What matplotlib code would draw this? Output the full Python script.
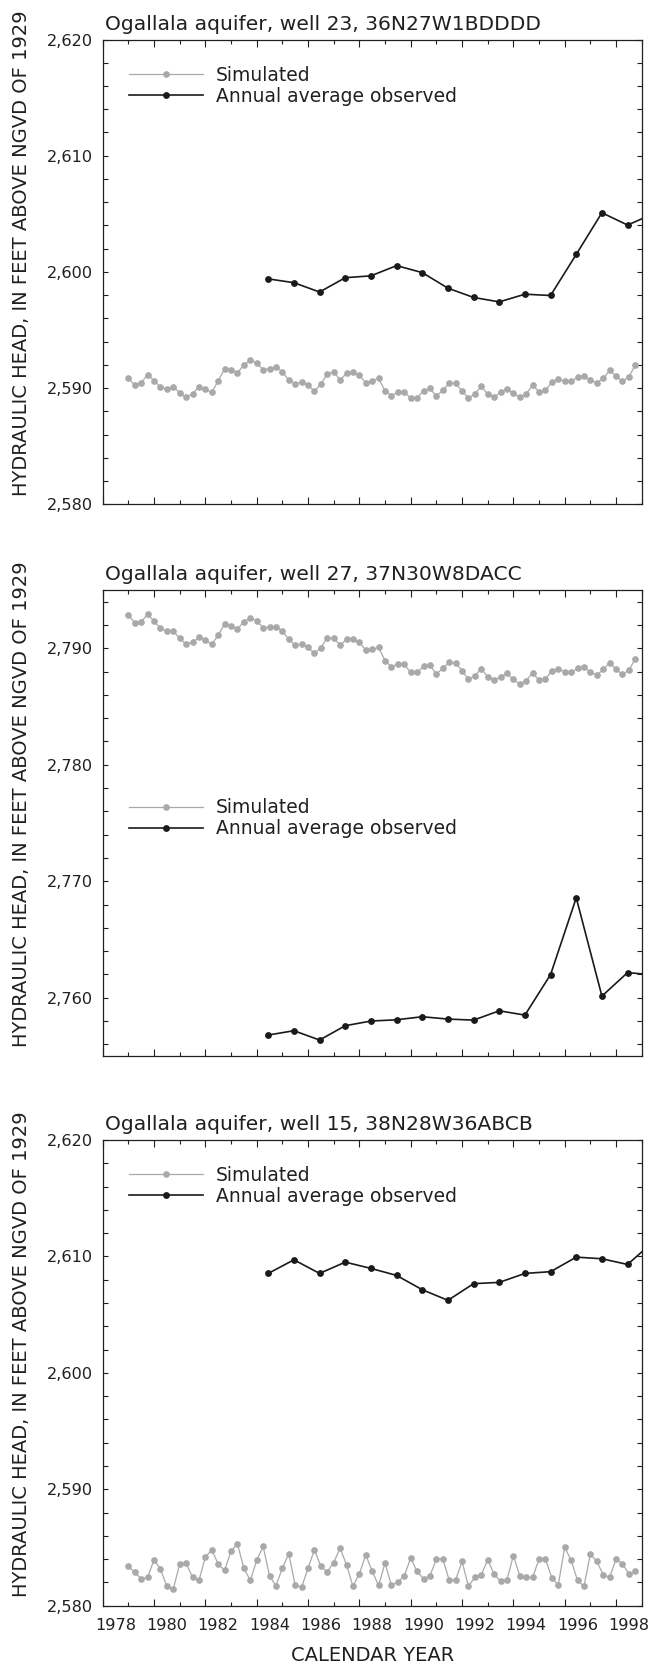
import numpy as np
import matplotlib
matplotlib.use("Agg")
import matplotlib.pyplot as plt
from matplotlib.ticker import FuncFormatter, NullFormatter, MultipleLocator
from matplotlib.transforms import offset_copy

# ---------------- data ----------------
sim_start = 1979.0          # first simulated time step (decimal year)
sim_step = 0.25             # quarterly stress periods
obs_dates = [1984.45, 1985.45, 1986.45, 1987.45, 1988.45, 1989.45, 1990.45, 1991.45,
             1992.45, 1993.45, 1994.45, 1995.45, 1996.45, 1997.45, 1998.45, 1999.45]

titles = ["Ogallala aquifer, well 23, 36N27W1BDDDD",
          "Ogallala aquifer, well 27, 37N30W8DACC",
          "Ogallala aquifer, well 15, 38N28W36ABCB"]

well23_sim = [2590.83, 2590.26, 2590.46, 2591.17, 2590.63, 2590.11, 2589.91, 2590.09, 2589.60, 2589.20,
              2589.51, 2590.11, 2589.89, 2589.63, 2590.63, 2591.63, 2591.60, 2591.32, 2591.98, 2592.41,
              2592.15, 2591.60, 2591.66, 2591.81, 2591.40, 2590.69, 2590.34, 2590.52, 2590.23, 2589.74,
              2590.34, 2591.23, 2591.38, 2590.72, 2591.26, 2591.40, 2591.12, 2590.46, 2590.63, 2590.83,
              2589.77, 2589.34, 2589.66, 2589.68, 2589.11, 2589.17, 2589.77, 2589.97, 2589.31,
              2589.80, 2590.43, 2590.40, 2589.77, 2589.14, 2589.51, 2590.14, 2589.48, 2589.23, 2589.63,
              2589.94, 2589.54, 2589.20, 2589.51, 2590.26, 2589.68, 2589.80, 2590.52, 2590.77, 2590.57,
              2590.57, 2590.92, 2591.06, 2590.69, 2590.46, 2590.83, 2591.52, 2591.03, 2590.57, 2590.97,
              2591.98]
well23_obs = [2599.40, 2599.07, 2598.27, 2599.50, 2599.66, 2600.54, 2599.94, 2598.60,
              2597.80, 2597.42, 2598.08, 2597.97, 2601.51, 2605.09, 2604.03, 2605.0]

well27_sim = [2792.85, 2792.19, 2792.28, 2792.91, 2792.34, 2791.70, 2791.48, 2791.48, 2790.85, 2790.36,
              2790.50, 2790.93, 2790.70, 2790.33, 2791.13, 2792.08, 2791.93, 2791.65, 2792.28, 2792.62,
              2792.36, 2791.76, 2791.79, 2791.85, 2791.48, 2790.76, 2790.27, 2790.36, 2790.07, 2789.56,
              2790.04, 2790.90, 2790.85, 2790.27, 2790.76, 2790.82, 2790.50, 2789.84, 2789.90, 2790.07,
              2788.93, 2788.41, 2788.64, 2788.61, 2787.92, 2787.92, 2788.44, 2788.55, 2787.78,
              2788.27, 2788.78, 2788.75, 2788.07, 2787.35, 2787.64, 2788.24, 2787.55, 2787.26, 2787.55,
              2787.84, 2787.32, 2786.92, 2787.21, 2787.89, 2787.26, 2787.35, 2788.07, 2788.24, 2787.95,
              2787.92, 2788.27, 2788.41, 2787.95, 2787.69, 2788.18, 2788.75, 2788.21, 2787.75, 2788.12,
              2789.07]
well27_obs = [2756.80, 2757.17, 2756.37, 2757.60, 2758.00, 2758.11, 2758.37, 2758.17,
              2758.08, 2758.88, 2758.51, 2761.99, 2768.58, 2760.14, 2762.16, 2761.96]

well15_sim = [2583.37, 2582.86, 2582.31, 2582.43, 2583.94, 2583.14, 2581.66, 2581.43, 2583.57, 2583.66,
              2582.43, 2582.17, 2584.17, 2584.80, 2583.57, 2583.03, 2584.71, 2585.31, 2583.23, 2582.17,
              2583.89, 2585.09, 2582.57, 2581.71, 2583.23, 2584.46, 2581.74, 2581.57, 2583.23, 2584.80,
              2583.37, 2582.91, 2583.71, 2584.94, 2583.51, 2581.66, 2582.74, 2584.37, 2582.94, 2581.74,
              2583.66, 2581.74, 2582.03, 2582.57, 2584.09, 2582.94, 2582.31, 2582.57, 2584.00,
              2584.00, 2582.20, 2582.20, 2583.80, 2581.66, 2582.46, 2582.66, 2583.94, 2582.71, 2582.09,
              2582.20, 2584.31, 2582.57, 2582.43, 2582.43, 2584.00, 2584.00, 2582.37, 2581.77, 2585.03,
              2583.89, 2582.17, 2581.66, 2584.43, 2583.80, 2582.66, 2582.43, 2584.00, 2583.60, 2582.74,
              2582.97]
well15_obs = [2608.54, 2609.71, 2608.54, 2609.51, 2608.97, 2608.37, 2607.14, 2606.23,
              2607.66, 2607.77, 2608.54, 2608.69, 2609.94, 2609.80, 2609.31, 2611.26]

y_ranges = [(2580, 2620), (2755, 2795), (2580, 2620)]
year_range = (1978, 1999)
label_years = list(range(1978, 1999, 2))

sim_series = [well23_sim, well27_sim, well15_sim]
obs_series = [well23_obs, well27_obs, well15_obs]

# ---------------- style ----------------
INK = "#231f20"
SIM_C = "#a7a9ac"
plt.rcParams["font.family"] = ["DejaVu Sans"]
plt.rcParams["text.color"] = INK

W, H = 652, 1675
fig = plt.figure(figsize=(W / 100, H / 100), dpi=100)

left = 102.7 / W
width = 539.0 / W
panels_px = [(39.5, 504.3), (590.0, 1056.0), (1140.0, 1605.7)]
legend_anchor = [0.943, 0.5528, 0.9446]
ylabel_y = [0.54, 0.54, 0.54]

for i, (top, bot) in enumerate(panels_px):
    ax = fig.add_axes([left, (H - bot) / H, width, (bot - top) / H])
    sim = sim_series[i]
    t_sim = sim_start + sim_step * np.arange(len(sim))
    ax.plot(t_sim, sim, color=SIM_C, lw=0.9, marker="o", ms=3.8, mec=SIM_C, mfc=SIM_C,
            label="Simulated", zorder=2)
    ax.plot(obs_dates, obs_series[i], color="#1a1a1a", lw=1.2, marker="o", ms=3.9,
            mec="#1a1a1a", mfc="#1a1a1a", label="Annual average observed", zorder=3)

    ax.set_xlim(*year_range)
    ax.set_ylim(*y_ranges[i])

    for s in ax.spines.values():
        s.set_linewidth(0.9)
        s.set_color(INK)

    # x ticks: every year, long on even years; labels centred on the year
    ax.set_xticks(np.arange(year_range[0], year_range[1] + 1))
    ax.xaxis.set_major_formatter(NullFormatter())
    if i == 2:
        ax.set_xticks([y + 0.5 for y in label_years], labels=[str(y) for y in label_years],
                      minor=True)
    else:
        ax.set_xticks([y + 0.5 for y in label_years], labels=[""] * len(label_years), minor=True)
    ax.tick_params(axis="x", which="major", direction="in", top=True, bottom=True,
                   length=4.8, width=0.8, color=INK)
    ax.tick_params(axis="x", which="minor", length=0, pad=8.5, labelsize=11.6, labelcolor=INK)
    for loc, tk in zip(ax.get_xticks(), ax.xaxis.get_major_ticks()):
        if int(round(loc)) % 2 == 1:
            tk.tick1line.set_markersize(3.0)
            tk.tick2line.set_markersize(3.0)

    # y ticks
    ax.yaxis.set_major_locator(MultipleLocator(10))
    ax.yaxis.set_minor_locator(MultipleLocator(2))
    ax.yaxis.set_major_formatter(FuncFormatter(lambda v, p: f"{v:,.0f}"))
    ax.tick_params(axis="y", which="both", direction="in", left=True, right=True,
                   length=3.3, width=0.8, color=INK, pad=6.8, labelsize=11.6, labelcolor=INK)

    ax.set_ylabel("HYDRAULIC HEAD, IN FEET ABOVE NGVD OF 1929", fontsize=14, color=INK)
    ax.yaxis.set_label_coords(-0.1325, ylabel_y[i])

    ax.text(0.004, 1.0, titles[i], transform=offset_copy(ax.transAxes, fig=fig, y=10, units="dots"),
            ha="left", va="baseline", fontsize=14.6, color=INK)

    ax.legend(loc="upper left", bbox_to_anchor=(0.0488, legend_anchor[i]), frameon=False,
              borderaxespad=0, borderpad=0, handlelength=3.95, handletextpad=0.69,
              labelspacing=0.1, numpoints=1, fontsize=13.5)

    if i == 2:
        ax.set_xlabel("CALENDAR YEAR", fontsize=14, color=INK, labelpad=10)

fig.savefig("out.png", dpi=100)
